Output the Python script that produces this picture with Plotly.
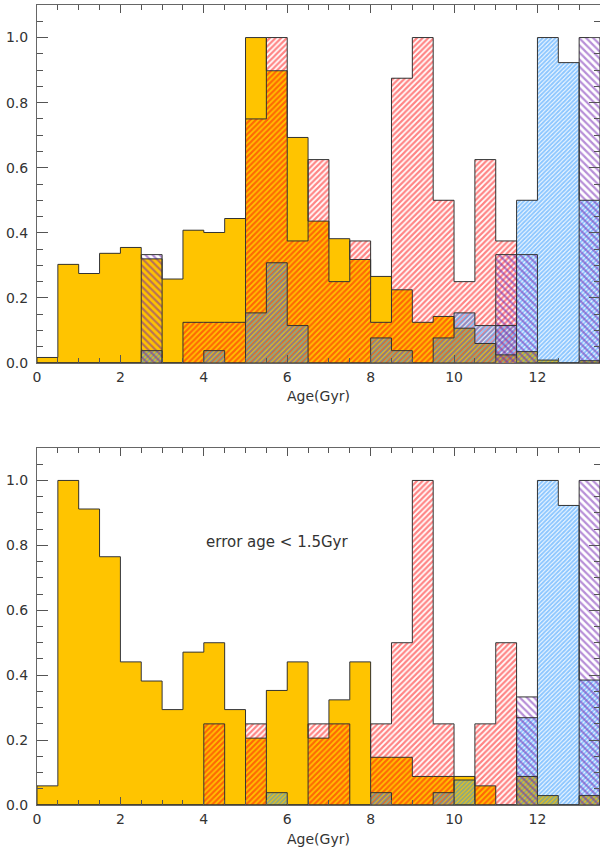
import plotly.graph_objects as go

# ---------------- data ----------------
bin_width = 0.5
bin_edges = [i * 0.5 for i in range(28)]          # 0 .. 13.5 Gyr
bin_centers = [e + 0.25 for e in bin_edges[:-1]]
x_ticks = [0, 2, 4, 6, 8, 10, 12]
y_ticks = [0.0, 0.2, 0.4, 0.6, 0.8, 1.0]

# top panel (all stars)
top_yellow = [0.017, 0.303, 0.275, 0.337, 0.355, 0.320, 0.258, 0.408, 0.401, 0.444,
              1.000, 0.898, 0.693, 0.436, 0.382, 0.318, 0.266, 0.225, 0.125, 0.143,
              0.107, 0.060, 0.025, 0.035, 0.009, 0.000, 0.007]
top_red = [0, 0, 0, 0, 0, 0, 0, 0.125, 0.125, 0.125,
           0.750, 1.000, 0.375, 0.625, 0.250, 0.375, 0.125, 0.875, 1.000, 0.500,
           0.250, 0.625, 0.375, 0, 0, 0, 0]
top_blue = [0, 0, 0, 0, 0, 0.038, 0, 0, 0.038, 0,
            0.154, 0.308, 0.115, 0, 0, 0, 0.077, 0.038, 0, 0.077,
            0.154, 0.115, 0.115, 0.500, 1.000, 0.923, 0.500]
top_purple = [0, 0, 0, 0, 0, 0.333, 0, 0, 0, 0,
              0, 0, 0, 0, 0, 0, 0, 0, 0, 0,
              0, 0, 0.333, 0.333, 0, 0, 1.000]

# bottom panel (error age < 1.5 Gyr)
bot_yellow = [0.059, 1.000, 0.912, 0.765, 0.441, 0.382, 0.294, 0.471, 0.500, 0.294,
              0.206, 0.353, 0.441, 0.206, 0.324, 0.441, 0.147, 0.147, 0.088, 0.088,
              0.088, 0.059, 0, 0.088, 0.029, 0, 0.029]
bot_red = [0, 0, 0, 0, 0, 0, 0, 0, 0.250, 0,
           0.250, 0, 0, 0.250, 0.250, 0, 0.250, 0.500, 1.000, 0.250,
           0, 0.250, 0.500, 0, 0, 0, 0]
bot_blue = [0, 0, 0, 0, 0, 0, 0, 0, 0, 0,
            0, 0.038, 0, 0, 0, 0, 0.038, 0, 0, 0.038,
            0.077, 0, 0, 0.269, 1.000, 0.923, 0.385]
bot_purple = [0, 0, 0, 0, 0, 0, 0, 0, 0, 0,
              0, 0, 0, 0, 0, 0, 0, 0, 0, 0,
              0, 0, 0, 0.333, 0, 0, 1.000]

annotation_text = "error age < 1.5Gyr"
axis_title = "Age(Gyr)"

# ---------------- styles ----------------
YELLOW = "#FFC400"
RED = "#FF0A0A"
BLUE = "#1E90FF"
PURPLE = "#7020B0"
OUTLINE = "#333333"
TXT = "#333333"
FONT = "DejaVu Sans"

hatch_styles = {
    "red": dict(shape="/", fgcolor=RED, size=4, solidity=0.55),
    "blue": dict(shape="/", fgcolor=BLUE, size=3, solidity=0.7),
    "purple": dict(shape="\\", fgcolor=PURPLE, size=5, solidity=0.45),
}

fig = go.Figure()


def add_panel(yellow, red, blue, purple, xa, ya):
    # solid yellow fill
    fig.add_trace(go.Bar(x=bin_centers, y=yellow, width=bin_width,
                         marker=dict(color=YELLOW, line=dict(width=0)),
                         xaxis=xa, yaxis=ya, showlegend=False, hoverinfo="skip"))
    # hatched populations
    for vals, key in ((red, "red"), (blue, "blue"), (purple, "purple")):
        st = hatch_styles[key]
        fig.add_trace(go.Bar(
            x=bin_centers, y=vals, width=bin_width,
            marker=dict(color="rgba(0,0,0,0)", line=dict(width=0),
                        pattern=dict(shape=st["shape"], fgcolor=st["fgcolor"],
                                     bgcolor="rgba(0,0,0,0)", size=st["size"],
                                     solidity=st["solidity"], fillmode="overlay")),
            xaxis=xa, yaxis=ya, showlegend=False, hoverinfo="skip"))
    # step outlines
    for vals in (yellow, red, blue, purple):
        xs = [bin_edges[0]] + bin_edges + [bin_edges[-1]]
        ys = [0] + list(vals) + [vals[-1], 0]
        fig.add_trace(go.Scatter(x=xs, y=ys, mode="lines", line_shape="hv",
                                 line=dict(color=OUTLINE, width=1),
                                 xaxis=xa, yaxis=ya, showlegend=False,
                                 hoverinfo="skip", cliponaxis=False))


add_panel(top_yellow, top_red, top_blue, top_purple, "x", "y")
add_panel(bot_yellow, bot_red, bot_blue, bot_purple, "x2", "y2")

fig.add_annotation(x=4.0, y=0.81, xref="x2", yref="y2", text=annotation_text,
                   showarrow=False, xanchor="left", yanchor="middle",
                   font=dict(family=FONT, size=15, color=TXT))

# axis titles (placed below each panel)
for ypos in (0.51125, -0.0425):
    fig.add_annotation(x=0.5, y=ypos, xref="paper", yref="paper", text=axis_title,
                       showarrow=False, xanchor="center", yanchor="middle",
                       font=dict(family=FONT, size=14, color=TXT))


def xaxis_cfg(anchor):
    return dict(range=[0, 13.5], tickvals=x_ticks, ticks="inside", ticklen=8,
                tickcolor="#555", tickwidth=1,
                minor=dict(dtick=0.5, ticks="inside", ticklen=5, tickcolor="#555"),
                showline=True, linecolor="#666", linewidth=1, mirror="allticks",
                showgrid=False, zeroline=False, anchor=anchor,
                tickfont=dict(family=FONT, size=14, color=TXT),
                ticklabelstandoff=1, automargin=False)


def yaxis_cfg(anchor, domain):
    return dict(range=[0, 1.1], tickvals=y_ticks, tickformat=".1f", ticks="inside",
                ticklen=11, tickcolor="#555", tickwidth=1,
                minor=dict(dtick=0.05, ticks="inside", ticklen=6, tickcolor="#555"),
                showline=True, linecolor="#666", linewidth=1, mirror="allticks",
                showgrid=False, zeroline=False, anchor=anchor, domain=domain,
                tickfont=dict(family=FONT, size=14, color=TXT),
                ticklabelstandoff=5, automargin=False)


fig.update_layout(
    width=600, height=850,
    margin=dict(l=37, r=0, t=5, b=45),
    paper_bgcolor="white", plot_bgcolor="white",
    barmode="overlay", bargap=0,
    xaxis=xaxis_cfg("y"),
    yaxis=yaxis_cfg("x", [0.5525, 1.0]),
    xaxis2=xaxis_cfg("y2"),
    yaxis2=yaxis_cfg("x2", [0.0, 0.44625]),
)

fig.write_html("out.html", config={"displayModeBar": False},
               post_script="document.body.style.margin='0';"
                           "document.body.style.overflow='hidden';")
